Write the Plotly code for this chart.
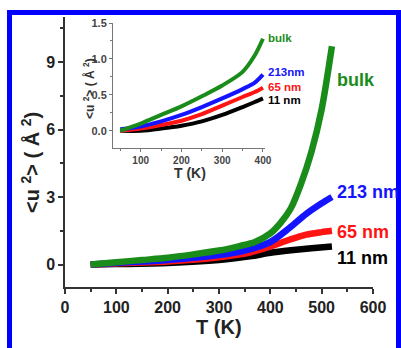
import plotly.graph_objects as go

W, H = 401, 348

# ---- main panel data (T in K, <u^2> in A^2) ----
T_bulk = [50, 100, 150, 200, 250, 300, 340, 370, 400, 420, 440, 460, 480, 500, 520]
U_bulk = [0.0, 0.1, 0.2, 0.3, 0.45, 0.62, 0.82, 1.0, 1.38, 1.85, 2.5, 3.6, 5.0, 6.9, 9.7]
T_213 = [50, 100, 200, 300, 350, 400, 437, 470, 500, 520]
U_213 = [0.0, 0.07, 0.2, 0.42, 0.62, 1.0, 1.62, 2.25, 2.72, 3.0]
T_65 = [50, 100, 200, 300, 360, 400, 437, 470, 500, 520]
U_65 = [0.0, 0.05, 0.13, 0.32, 0.53, 0.8, 1.1, 1.33, 1.44, 1.5]
T_11 = [50, 100, 200, 300, 360, 400, 440, 480, 520]
U_11 = [0.0, 0.02, 0.07, 0.2, 0.36, 0.52, 0.63, 0.72, 0.8]

# ---- inset data ----
Ti = [50, 100, 150, 200, 250, 300, 350, 380, 400]
Ui_bulk = [0.0, 0.1, 0.22, 0.34, 0.48, 0.63, 0.82, 1.05, 1.28]
Ui_213 = [0.02, 0.06, 0.13, 0.22, 0.33, 0.45, 0.58, 0.67, 0.78]
Ui_65 = [0.0, 0.03, 0.08, 0.14, 0.23, 0.35, 0.47, 0.54, 0.6]
Ui_11 = [0.0, 0.0, 0.03, 0.07, 0.13, 0.22, 0.33, 0.4, 0.45]

labels = ["11 nm", "65 nm", "213 nm", "bulk"]
inset_labels = ["11 nm", "65 nm", "213nm", "bulk"]
colors = ["#000000", "#ff1414", "#1414ff", "#1a8c1a"]

main_x_ticks = [0, 100, 200, 300, 400, 500, 600]
main_y_ticks = [0, 3, 6, 9]
inset_x_ticks = [100, 200, 300, 400]
inset_y_ticks = [0.0, 0.5, 1.0, 1.5]


def px(x):
    return x / W


def py(y):
    return 1 - y / H


FONT = "Liberation Sans, Arial, sans-serif"

fig = go.Figure()

main_series = [(T_11, U_11), (T_65, U_65), (T_213, U_213), (T_bulk, U_bulk)]
for (T, U), c in zip(main_series, colors):
    fig.add_trace(go.Scatter(x=T, y=U, mode="lines",
                             line=dict(color=c, width=6.5, shape="spline", smoothing=0.8),
                             xaxis="x", yaxis="y", showlegend=False))

inset_series = [Ui_11, Ui_65, Ui_213, Ui_bulk]
for U, c in zip(inset_series, colors):
    fig.add_trace(go.Scatter(x=Ti, y=U, mode="lines",
                             line=dict(color=c, width=4, shape="spline", smoothing=0.8),
                             xaxis="x2", yaxis="y2", showlegend=False))

axis_common = dict(showgrid=False, zeroline=False, showline=True, ticks="outside",
                   mirror=False, automargin=False)

fig.update_layout(
    template="none",
    width=W, height=H, autosize=False,
    margin=dict(l=0, r=0, t=0, b=0, pad=0),
    paper_bgcolor="white", plot_bgcolor="white",
    font=dict(family=FONT),
    xaxis=dict(**axis_common, domain=[px(65), px(373)], range=[0, 600],
               tickvals=main_x_ticks, ticklen=5, tickwidth=1.5,
               linecolor="#333", linewidth=1.5, tickcolor="#333",
               minor=dict(dtick=50, ticklen=3, ticks="outside", tickcolor="#333"),
               tickfont=dict(size=16, color="#222", weight="bold"), anchor="y"),
    yaxis=dict(**axis_common, domain=[py(287), py(17)], range=[-1, 11],
               tickvals=main_y_ticks, ticklen=5, tickwidth=1.5,
               linecolor="#333", linewidth=1.5, tickcolor="#333",
               minor=dict(dtick=1.5, tick0=0, ticklen=3, ticks="outside", tickcolor="#333"),
               tickfont=dict(size=16, color="#222", weight="bold"), anchor="x"),
    xaxis2=dict(**axis_common, domain=[px(113), px(265)], range=[32, 405],
                tickvals=inset_x_ticks, ticklen=3, linecolor="#777", tickcolor="#777",
                minor=dict(dtick=50, ticklen=2, ticks="outside", tickcolor="#777"),
                tickfont=dict(size=10, color="#444", weight="bold"), anchor="y2"),
    yaxis2=dict(**axis_common, domain=[py(148), py(23)], range=[-0.24, 1.5],
                tickvals=inset_y_ticks, tickformat=".1f", ticklen=3,
                linecolor="#777", tickcolor="#777",
                minor=dict(dtick=0.25, tick0=0, ticklen=2, ticks="outside", tickcolor="#777"),
                tickfont=dict(size=11, color="#444", weight="bold"), anchor="x2"),
)

ann = []
# axis titles
ann.append(dict(text="<b>T (K)</b>", x=px(219), y=py(327), xref="paper", yref="paper",
                showarrow=False, font=dict(size=20, color="#222"), xanchor="center", yanchor="middle"))
ann.append(dict(text="<b>&lt;u <sup>2</sup>&gt; ( Å <sup>2</sup>)</b>", x=px(30), y=py(163),
                xref="paper", yref="paper", textangle=-90, showarrow=False,
                font=dict(size=20, color="#222"), xanchor="center", yanchor="middle"))
ann.append(dict(text="<b>T (K)</b>", x=px(190), y=py(173), xref="paper", yref="paper",
                showarrow=False, font=dict(size=14, color="#333"), xanchor="center", yanchor="middle"))
ann.append(dict(text="<b>&lt;u <sup>2</sup>&gt; ( Å <sup>2</sup>)</b>", x=px(89), y=py(89),
                xref="paper", yref="paper", textangle=-90, showarrow=False,
                font=dict(size=12, color="#333"), xanchor="center", yanchor="middle"))

# main series labels
main_label_y = [258, 232, 192, 80]
for lab, c, yy in zip(labels, colors, main_label_y):
    ann.append(dict(text="<b>%s</b>" % lab, x=px(335), y=py(yy), xref="paper", yref="paper",
                    showarrow=False, font=dict(size=18, color=c), xanchor="left", yanchor="middle"))
# inset series labels
inset_label_y = [100, 87, 72, 38]
for lab, c, yy in zip(inset_labels, colors, inset_label_y):
    ann.append(dict(text="<b>%s</b>" % lab, x=px(266), y=py(yy), xref="paper", yref="paper",
                    showarrow=False, font=dict(size=11.5, color=c), xanchor="left", yanchor="middle"))

fig.update_layout(annotations=ann)

# blue frame
fig.add_shape(type="rect", xref="paper", yref="paper",
              x0=px(9.5), x1=px(398.5), y0=py(360), y1=py(12.5),
              line=dict(color="#0000ff", width=5), fillcolor="rgba(0,0,0,0)", layer="above")

fig.write_html("out.html", config={"responsive": False})
